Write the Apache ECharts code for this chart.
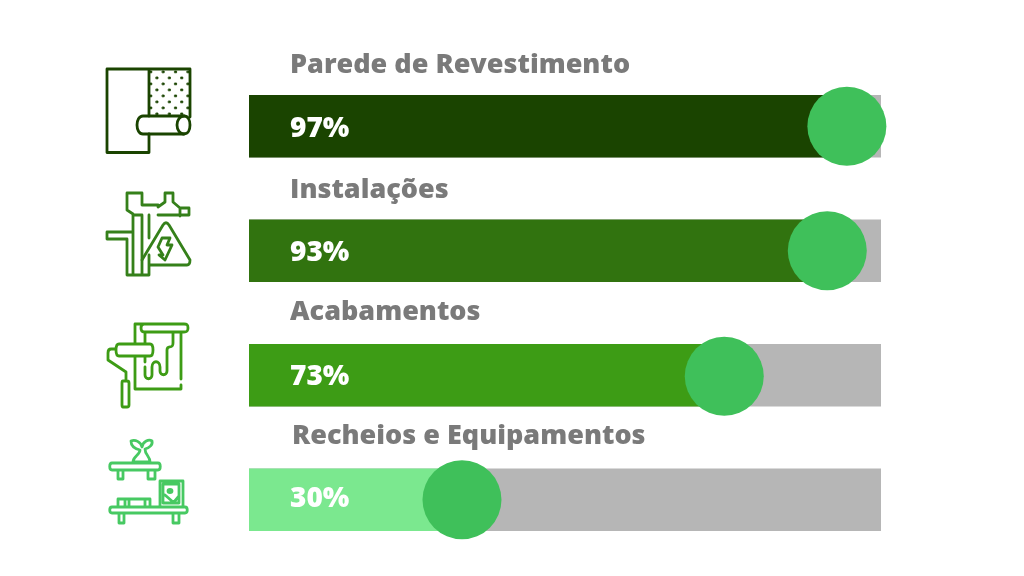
<!DOCTYPE html>
<html><head><meta charset="utf-8">
<style>html,body{margin:0;padding:0;background:#fff}#c{width:1024px;height:576px}</style>
<script src="https://cdn.jsdelivr.net/npm/echarts@6/dist/echarts.min.js"></script>
</head><body><div id="c"></div>
<script>
const categories = ['Parede de Revestimento','Instalações','Acabamentos','Recheios e Equipamentos'];
const percentages = [97,93,73,30];
const knobPositions = [94.6,91.5,75.2,33.7];
const barColors = ['#1a4400','#31730f','#3d9c15','#7be88f'];
const iconColors = ['#1a4400','#35801a','#3d9c15','#47c962'];
const titleOffsets = [[0,-61],[0,-60],[0,-63],[2,-63]];
const percentOffsets = [3,2,2,-1];
const knobOffsets = [0,0,1,0];
const FONT='"Open Sans"';

const chart = echarts.init(document.getElementById('c'),null,{renderer:'canvas'});
const dots=[];
for(let r=0;r<8;r++)for(let c=0;c<7;c++){ if((r+c)%2===0) dots.push('M'+(150+c*6.2)+' '+(71+r*6.0)+'h1.8v1.8h-1.8z'); }
const dotPath=dots.join('');
const iconPaths=[
 ['M149 116V69H107V152.5H149V134M149 69H190V117',
  'M184 116H143C135 116 135 134 143 134H184',
  'M184 116C180 116 177 120 177 125C177 130 180 134 184 134C188 134 190 130 190 125C190 120 188 116 184 116Z',dotPath],
 ['M127 193H142V205H158M127 193V210L133 214V275M142 215V275M142 215H133M158 215H180M149 215V238M149 255V275H127V239H107V232H127M133 232H127M158 207L165 202V193H173V202L180 208V216M180 208H189V215H180',
  'M142 260L163 225C165 222 167 222 169 225L190 260C190 263 189 265 187 265H150',
  'M162 238H170L167 245H172L165 260L159 255H163L158 247Z'],
 ['M135 343V324H184C187 324 188 325 188 328C188 331 187 332 184 332H144C140 332 140 324 144 324M135 357V389H181V385M181 333V379M145 332V343M145 357V362',
  'M145 367V375C145 380 152 380 152 375V367C152 360 160 360 160 367V371C160 376 167 376 167 371V350C167 344 173 350 173 343V333',
  'M119 344H150C154 344 154 356 150 356H119C115 356 115 344 119 344ZM116 349H111C109 349 108 351 108 353V360L126 372V381M123 381H127C129 381 129 382 129 383V405C129 406 129 407 127 407H123C122 407 122 406 122 405V383C122 382 122 381 123 381Z'],
 ['M112 463H158C161 463 161 470 158 470H112C109 470 109 463 112 463ZM118 470V479H123V470M148 470V479H155V470',
  'M133 462C133 456 140 455 140 450C136 449 131 447 131 441C135 439 141 442 142 447C143 441 149 439 152 441C153 445 149 448 145 449C145 455 150 456 150 462Z',
  'M112 507H185C188 507 188 513 185 513H112C109 513 109 507 112 507ZM119 513V523H124V513M173 513V523H179V513M118 507V499H150V507M125 499V507M129 499V507M145 499V507',
  'M160 506V481H183V506M163 484H179V503H163ZM165 495L173 502M174 502L179 496M172 491C172 489 168 489 168 491C168 493 172 493 172 491Z'],
];

chart.setOption({
 animation:false,
 backgroundColor:'#fff',
 grid:{left:249,top:64,width:632,height:498,containLabel:false},
 xAxis:{type:'value',min:0,max:100,show:false},
 yAxis:{type:'category',data:categories,inverse:true,show:false},
 series:[
  {type:'bar',barWidth:62.5,barGap:'-100%',silent:true,
   data:categories.map(()=>100),itemStyle:{color:'#b6b6b6'},z:1},
  {type:'bar',barWidth:62.5,barGap:'-100%',
   data:percentages.map((v,i)=>({value:v,itemStyle:{color:barColors[i]}})),z:2},
  {type:'scatter',symbol:'circle',symbolSize:79,z:3,
   itemStyle:{color:'#3fc05a',opacity:1},
   data:knobPositions.map((v,i)=>({value:[v,categories[i]],symbolOffset:[0,knobOffsets[i]]}))},
  {type:'scatter',symbolSize:0,z:4,itemStyle:{opacity:1},
   data:percentages.map((v,i)=>({value:[0,categories[i]],
     label:{show:true,position:'right',distance:0,offset:[41,percentOffsets[i]],formatter:v+'%',opacity:1,
       color:'#fff',fontFamily:FONT,fontWeight:800,fontSize:28}}))},
  {type:'scatter',symbolSize:0,z:4,itemStyle:{opacity:1},
   data:categories.map((c,i)=>({value:[0,c],
     label:{show:true,position:'right',distance:0,offset:[41+titleOffsets[i][0],titleOffsets[i][1]],formatter:c,opacity:1,
       color:'#7a7a7a',fontFamily:FONT,fontWeight:800,fontSize:27}}))},
  {type:'custom',coordinateSystem:'none',z:5,silent:true,
   data:categories.map((c,i)=>i),
   renderItem:(params)=>{
     const i=params.dataIndex;
     return {type:'group',children:iconPaths[i].map(d=>{
       const isDots=d===dotPath;
       return {type:'path',shape:{pathData:d},
         style:{fill:isDots?iconColors[i]:'none',stroke:iconColors[i],lineWidth:isDots?0.8:2.8,lineCap:'round',lineJoin:'round'}};
     })};
   }}
 ]
});
</script></body></html>
